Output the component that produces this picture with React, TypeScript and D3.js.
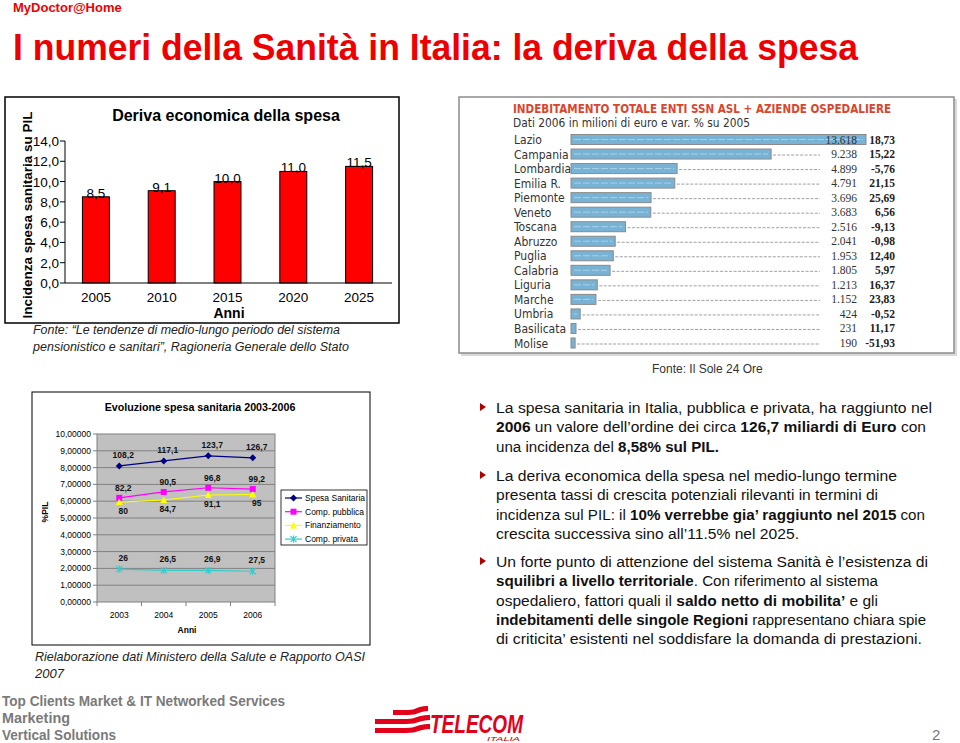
import React from "react";
import * as d3 from "d3";

// ---------- DATA ----------
const barYears = ["2005", "2010", "2015", "2020", "2025"];
const barValues = [8.5, 9.1, 10.0, 11.0, 11.5];
const barYTicks = [0, 2, 4, 6, 8, 10, 12, 14];

const regions = ["Lazio", "Campania", "Lombardia", "Emilia R.", "Piemonte", "Veneto", "Toscana", "Abruzzo", "Puglia", "Calabria", "Liguria", "Marche", "Umbria", "Basilicata", "Molise"];
const debt = [13618, 9238, 4899, 4791, 3696, 3683, 2516, 2041, 1953, 1805, 1213, 1152, 424, 231, 190];
const varPct = ["18,73", "15,22", "-5,76", "21,15", "25,69", "6,56", "-9,13", "-0,98", "12,40", "5,97", "16,37", "23,83", "-0,52", "11,17", "-51,93"];

const lineYears = ["2003", "2004", "2005", "2006"];
const spesaSanitaria = [8.1, 8.4, 8.7, 8.58];
const compPubblica = [6.2, 6.55, 6.8, 6.72];
const finanziamento = [5.95, 6.07, 6.37, 6.4];
const compPrivata = [1.96, 1.88, 1.88, 1.83];
const spesaLabels = ["108,2", "117,1", "123,7", "126,7"];
const pubblicaLabels = ["82,2", "90,5", "96,8", "99,2"];
const finanzLabels = ["80", "84,7", "91,1", "95"];
const privataLabels = ["26", "26,5", "26,9", "27,5"];
const lineYTicks = [0, 1, 2, 3, 4, 5, 6, 7, 8, 9, 10];
const seriesNames = ["Spesa Sanitaria", "Comp. pubblica", "Finanziamento", "Comp. privata"];

type Seg = { t: string; b?: boolean };
const bullets: { lines: Seg[][]; widths: number[] }[] = [
  {
    lines: [
      [{ t: "La spesa sanitaria in Italia, pubblica e privata, ha raggiunto nel" }],
      [{ t: "2006", b: true }, { t: " un valore dell\u2019ordine dei circa " }, { t: "126,7 miliardi di Euro", b: true }, { t: " con" }],
      [{ t: "una incidenza del " }, { t: "8,58% sul PIL.", b: true }],
    ],
    widths: [436, 430, 223],
  },
  {
    lines: [
      [{ t: "La deriva economica della spesa nel medio-lungo termine" }],
      [{ t: "presenta tassi di crescita potenziali rilevanti in termini di" }],
      [{ t: "incidenza sul PIL: il " }, { t: "10% verrebbe gia\u2019 raggiunto nel 2015", b: true }, { t: " con" }],
      [{ t: "crescita successiva sino all\u201911.5% nel 2025." }],
    ],
    widths: [401, 382, 429, 303],
  },
  {
    lines: [
      [{ t: "Un forte punto di attenzione del sistema Sanit\u00e0 \u00e8 l\u2019esistenza di" }],
      [{ t: "squilibri a livello territoriale", b: true }, { t: ". Con riferimento al sistema" }],
      [{ t: "ospedaliero, fattori quali il " }, { t: "saldo netto di mobilita\u2019", b: true }, { t: " e gli" }],
      [{ t: "indebitamenti delle singole Regioni", b: true }, { t: " rappresentano chiara spie" }],
      [{ t: "di criticita\u2019 esistenti nel soddisfare la domanda di prestazioni." }],
    ],
    widths: [432, 382, 382, 430, 426],
  },
];
const bulletStarts = [413, 481, 567];

const ARIAL = "'Liberation Sans', Arial, Helvetica, sans-serif";
const NARROW = "'Liberation Sans Narrow', 'Arial Narrow', 'Liberation Sans', sans-serif";
const COND = "'DejaVu Sans Condensed', 'Liberation Sans Narrow', sans-serif";
const SERIF = "'Liberation Serif', 'DejaVu Serif', serif";
const RED = "#ee0000";

const itLocale = d3.formatLocale({ decimal: ",", thousands: ".", grouping: [3], currency: ["", ""] });
const fmtThousands = itLocale.format(",d");
const fmtOne = itLocale.format(".1f");
const fmtFive = itLocale.format(".5f");

function BarChart() {
  const x = d3.scaleBand<string>().domain(barYears).range([63, 392]).paddingInner(0.59).paddingOuter(0.295);
  const y = d3.scaleLinear().domain([0, 14]).range([283, 141]);
  return (
    <g fontFamily={ARIAL}>
      <rect x={5} y={97} width={394} height={226} fill="white" stroke="black" strokeWidth={1.5} />
      <text x={226} y={121} textAnchor="middle" fontWeight="bold" fontSize={16}>Deriva economica della spesa</text>
      <text transform="translate(32,215) rotate(-90)" textAnchor="middle" fontWeight="bold" fontSize={13.5}>Incidenza spesa sanitaria su PIL</text>
      {barYTicks.map((t) => (
        <g key={t}>
          <line x1={60} x2={65} y1={y(t)} y2={y(t)} stroke="black" />
          <text x={59} y={y(t) + 5} textAnchor="end" fontSize={13.5}>{fmtOne(t)}</text>
        </g>
      ))}
      <line x1={65} x2={65} y1={y(14)} y2={y(0)} stroke="black" />
      {barYears.map((yr, i) => (
        <g key={yr}>
          <rect x={x(yr)} y={y(barValues[i])} width={x.bandwidth()} height={y(0) - y(barValues[i])} fill="#ff0000" stroke="black" strokeWidth={1} />
          <text x={(x(yr) as number) + x.bandwidth() / 2} y={y(barValues[i]) + 1} textAnchor="middle" fontSize={13.5}>{fmtOne(barValues[i])}</text>
          <text x={(x(yr) as number) + x.bandwidth() / 2} y={302} textAnchor="middle" fontSize={13.5}>{yr}</text>
        </g>
      ))}
      <line x1={65} x2={392} y1={y(0)} y2={y(0)} stroke="black" />
      <text x={229} y={318} textAnchor="middle" fontWeight="bold" fontSize={14}>Anni</text>
      <g fontStyle="italic" fontSize={12.5} fill="#222">
        <text x={33} y={334} textLength={307} lengthAdjust="spacingAndGlyphs">Fonte: {"\u201c"}Le tendenze di medio-lungo periodo del sistema</text>
        <text x={33} y={351} textLength={316} lengthAdjust="spacingAndGlyphs">pensionistico e sanitari{"\u201d"}, Ragioneria Generale dello Stato</text>
      </g>
    </g>
  );
}

function DebtTable() {
  const x = d3.scaleLinear().domain([0, 13618]).range([571, 866]);
  const y = d3.scalePoint<string>().domain(regions).range([139.5, 343]);
  return (
    <g>
      <rect x={461} y={99} width={496} height={257} fill="#d8d8d8" />
      <rect x={459} y={97} width={495} height={256} fill="white" stroke="#8c8c8c" strokeWidth={1.5} />
      <text x={513} y={113} fontFamily={COND} fontWeight="bold" fontSize={13} fill="#d9452e" textLength={378} lengthAdjust="spacingAndGlyphs">INDEBITAMENTO TOTALE ENTI SSN ASL + AZIENDE OSPEDALIERE</text>
      <text x={513} y={127} fontFamily={COND} fontSize={12} fill="#333" textLength={237} lengthAdjust="spacingAndGlyphs">Dati 2006 in milioni di euro e var. % su 2005</text>
      {regions.map((r, i) => {
        const cy = y(r) as number;
        const end = x(debt[i]);
        return (
          <g key={r}>
            <text x={514} y={cy + 4.5} fontFamily={COND} fontSize={12} fill="#333">{r}</text>
            {end < 818 && <line x1={end + 2} x2={820} y1={cy + 1} y2={cy + 1} stroke="#777" strokeWidth={0.7} strokeDasharray="3,1.5" />}
            <rect x={x(0)} y={cy - 5} width={end - x(0)} height={10} fill="#78b3d6" stroke="#8a8a8a" strokeWidth={1} />
            {end - x(0) > 6 && <line x1={x(0) + 3} x2={end - 3} y1={cy} y2={cy} stroke="#a9d0e8" strokeWidth={1} strokeDasharray="7,2" />}
            <text x={857} y={cy + 4} textAnchor="end" fontFamily={SERIF} fontSize={11.5} fill="#333">{fmtThousands(debt[i])}</text>
            <text x={895} y={cy + 4} textAnchor="end" fontFamily={SERIF} fontWeight="bold" fontSize={11.5} fill="#222">{varPct[i]}</text>
          </g>
        );
      })}
      <text x={652} y={373} fontFamily={ARIAL} fontSize={12} fill="#333">Fonte: Il Sole 24 Ore</text>
    </g>
  );
}

function Marker({ kind, cx, cy, color }: { kind: number; cx: number; cy: number; color: string }) {
  if (kind === 0) return <path d={`M${cx},${cy - 3.5}L${cx + 3.5},${cy}L${cx},${cy + 3.5}L${cx - 3.5},${cy}Z`} fill={color} />;
  if (kind === 1) return <rect x={cx - 3} y={cy - 3} width={6} height={6} fill={color} />;
  if (kind === 2) return <path d={`M${cx},${cy - 3.5}L${cx + 3.5},${cy + 3}L${cx - 3.5},${cy + 3}Z`} fill={color} />;
  return (
    <g stroke={color} strokeWidth={1.2}>
      <line x1={cx - 3} x2={cx + 3} y1={cy - 3} y2={cy + 3} />
      <line x1={cx - 3} x2={cx + 3} y1={cy + 3} y2={cy - 3} />
      <line x1={cx} x2={cx} y1={cy - 3.5} y2={cy + 3.5} />
    </g>
  );
}

function LineChart() {
  const x = d3.scaleBand<string>().domain(lineYears).range([97, 275]);
  const y = d3.scaleLinear().domain([0, 10]).range([602, 434]);
  const cx = (yr: string) => (x(yr) as number) + x.bandwidth() / 2;
  const series = [spesaSanitaria, compPubblica, finanziamento, compPrivata];
  const colors = ["#000080", "#ff00ff", "#ffff00", "#33cccc"];
  const labels = [spesaLabels, pubblicaLabels, finanzLabels, privataLabels];
  const offsets = [-8, -7, 12, -8];
  const line = d3.line<number>().x((_, i) => cx(lineYears[i])).y((d) => y(d));
  return (
    <g fontFamily={ARIAL}>
      <rect x={32} y={392} width={338} height={253} fill="white" stroke="black" strokeWidth={1} />
      <text x={200} y={411} textAnchor="middle" fontWeight="bold" fontSize={10.7}>Evoluzione spesa sanitaria 2003-2006</text>
      <rect x={97} y={434} width={178} height={168} fill="#c0c0c0" stroke="#808080" strokeWidth={1} />
      {lineYTicks.map((t) => (
        <g key={t}>
          {t > 0 && t < 10 && <line x1={97} x2={275} y1={y(t)} y2={y(t)} stroke="#808080" strokeWidth={1} />}
          <line x1={93} x2={97} y1={y(t)} y2={y(t)} stroke="#808080" />
          <text x={91} y={y(t) + 3} textAnchor="end" fontSize={8.5}>{fmtFive(t)}</text>
        </g>
      ))}
      {lineYears.map((yr, i) => (
        <g key={yr}>
          <line x1={(x(yr) as number) + x.bandwidth()} x2={(x(yr) as number) + x.bandwidth()} y1={602} y2={606} stroke="#808080" />
          {i === 0 && <line x1={97} x2={97} y1={602} y2={606} stroke="#808080" />}
          <text x={cx(yr)} y={618} textAnchor="middle" fontSize={8.5}>{yr}</text>
        </g>
      ))}
      <text x={187} y={633} textAnchor="middle" fontWeight="bold" fontSize={8.5}>Anni</text>
      <text transform="translate(48,512) rotate(-90)" textAnchor="middle" fontWeight="bold" fontSize={8.5}>%PIL</text>
      {series.map((s, k) => (
        <g key={k}>
          <path d={line(s) as string} fill="none" stroke={colors[k]} strokeWidth={1.2} />
          {s.map((v, i) => <Marker key={i} kind={k} cx={cx(lineYears[i])} cy={y(v)} color={colors[k]} />)}
          {s.map((v, i) => (
            <text key={"l" + i} x={cx(lineYears[i]) + 4} y={y(v) + offsets[k]} textAnchor="middle" fontWeight="bold" fontSize={8.5} fill="#111">{labels[k][i]}</text>
          ))}
        </g>
      ))}
      <rect x={281} y={490} width={86} height={55} fill="white" stroke="black" strokeWidth={0.8} />
      {seriesNames.map((n, k) => {
        const ly = 498 + k * 13.7;
        return (
          <g key={n}>
            <line x1={285} x2={302} y1={ly} y2={ly} stroke={colors[k]} strokeWidth={1.2} />
            <Marker kind={k} cx={293.5} cy={ly} color={colors[k]} />
            <text x={305} y={ly + 3} fontSize={8.5}>{n}</text>
          </g>
        );
      })}
      <g fontStyle="italic" fontSize={13} fill="#222">
        <text x={35} y={661} textLength={330} lengthAdjust="spacingAndGlyphs">Rielaborazione dati Ministero della Salute e Rapporto OASI</text>
        <text x={35} y={678}>2007</text>
      </g>
    </g>
  );
}

function Bullets() {
  return (
    <g fontFamily={ARIAL} fontSize={15.5} fill="#111">
      {bullets.map((b, bi) => (
        <g key={bi}>
          <path d={`M480,${bulletStarts[bi] - 10}L486,${bulletStarts[bi] - 6}L480,${bulletStarts[bi] - 2}Z`} fill="#b00000" />
          {b.lines.map((ln, li) => (
            <text key={li} x={496} y={bulletStarts[bi] + li * 19.3} textLength={b.widths[li]} lengthAdjust="spacingAndGlyphs">
              {ln.map((s, si) => (
                <tspan key={si} fontWeight={s.b ? "bold" : "normal"}>{s.t}</tspan>
              ))}
            </text>
          ))}
        </g>
      ))}
    </g>
  );
}

function Footer() {
  return (
    <g>
      <g fontFamily={NARROW} fontWeight="bold" fontSize={15} fill="#7a7a7a">
        <text x={2} y={706} textLength={283} lengthAdjust="spacingAndGlyphs">Top Clients Market &amp; IT Networked Services</text>
        <text x={2} y={723} textLength={68} lengthAdjust="spacingAndGlyphs">Marketing</text>
        <text x={2} y={740} textLength={114} lengthAdjust="spacingAndGlyphs">Vertical Solutions</text>
      </g>
      <g fill="#e3001b">
        <path d="M393,710 L408,710 C416,710 418,706 426,706 L428,706 L428,711 C420,711 418,715 408,715 L393,715 Z" />
        <path d="M375,719 L406,719 C416,719 418,715 428,715 L430,715 L430,720 C420,720 418,724 406,724 L375,724 Z" />
        <path d="M375,728 L406,728 C416,728 418,724 428,724 L430,724 L430,729 C420,729 418,733 406,733 L375,733 Z" />
      </g>
      <text x={430} y={733} fontFamily={NARROW} fontWeight="bold" fontStyle="italic" fontSize={26} fill="#e3001b" textLength={93} lengthAdjust="spacingAndGlyphs">TELECOM</text>
      <text x={487} y={741} fontFamily={ARIAL} fontStyle="italic" fontSize={6} fill="#c00000" textLength={33} lengthAdjust="spacingAndGlyphs">ITALIA</text>
      <text x={932} y={740} fontFamily={ARIAL} fontSize={15} fill="#777">2</text>
    </g>
  );
}

export default function App() {
  return (
    <svg width={960} height={743} style={{ position: "absolute", left: 0, top: 0, background: "white" }}>
      <rect width={960} height={743} fill="white" />
      <text x={13} y={12} fontFamily={ARIAL} fontWeight="bold" fontSize={13} fill={RED}>MyDoctor@Home</text>
      <text x={13} y={60} fontFamily={ARIAL} fontWeight="bold" fontSize={36} fill={RED} textLength={845} lengthAdjust="spacingAndGlyphs">I numeri della Sanit{"\u00e0"} in Italia: la deriva della spesa</text>
      <BarChart />
      <DebtTable />
      <LineChart />
      <Bullets />
      <Footer />
    </svg>
  );
}
